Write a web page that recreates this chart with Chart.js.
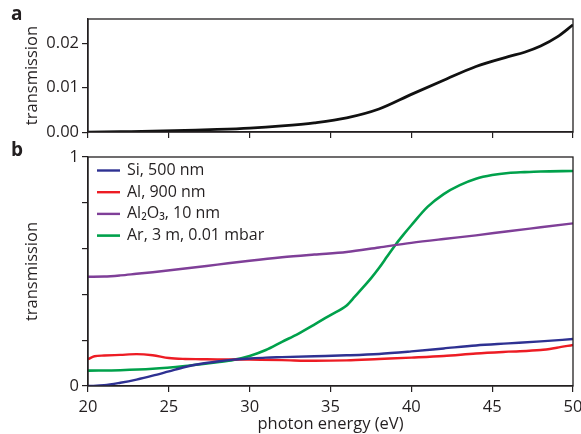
<!DOCTYPE html>
<html>
<head>
<meta charset="utf-8">
<script src="https://cdn.jsdelivr.net/npm/chart.js@4"></script>
<style>
  body { margin: 0; background: #fff; width: 581px; height: 434px; position: relative; overflow: hidden; font-family: 'Open Sans', sans-serif; }
  canvas { position: absolute; left: 0; }
  .tag { position: absolute; left: 11px; font-weight: bold; font-size: 19px; line-height: 19px; color: #231f20; z-index: 2; }
</style>
</head>
<body>
<div class="tag" style="top:4px">a</div>
<div class="tag" style="top:140px">b</div>
<canvas id="chartA" width="581" height="145" style="top:0"></canvas>
<canvas id="chartB" width="581" height="294" style="top:140px"></canvas>
<script>
// panel a: total transmission
var energyA = [20, 22, 24, 26, 28, 30, 32, 34, 36, 38, 40, 42, 44, 46, 47, 48, 49, 50];
var transA = [0, 0.0001, 0.0002, 0.0004, 0.0006, 0.0009, 0.0014, 0.0021, 0.0032, 0.0052, 0.0085, 0.0117, 0.0148, 0.0170, 0.0180, 0.0194, 0.0214, 0.0242];

// panel b: individual elements
var energySi = [20, 21, 22, 23, 24, 25, 26, 27, 28, 29, 30, 31, 32, 34, 36, 38, 40, 42, 44, 46, 48, 50];
var transSi = [0, 0.003, 0.014, 0.028, 0.045, 0.064, 0.083, 0.097, 0.107, 0.115, 0.120, 0.124, 0.126, 0.130, 0.134, 0.140, 0.151, 0.164, 0.177, 0.186, 0.195, 0.205];

var energyAl = [20, 20.4, 21, 22, 23, 24, 25, 26, 27, 28, 29, 30, 32, 34, 36, 38, 40, 42, 44, 46, 48, 49, 50];
var transAl = [0.117, 0.130, 0.133, 0.136, 0.139, 0.134, 0.122, 0.118, 0.117, 0.116, 0.116, 0.115, 0.113, 0.110, 0.112, 0.118, 0.124, 0.131, 0.142, 0.150, 0.157, 0.167, 0.179];

var energyAl2O3 = [20, 21, 22, 23, 24, 26, 28, 30, 32, 34, 36, 38, 40, 42, 44, 46, 48, 50];
var transAl2O3 = [0.477, 0.478, 0.483, 0.490, 0.497, 0.513, 0.530, 0.547, 0.562, 0.574, 0.585, 0.605, 0.625, 0.642, 0.658, 0.676, 0.693, 0.710];

var energyAr = [20, 22, 24, 26, 27, 28, 29, 30, 31, 32, 33, 34, 35, 36, 36.5, 37, 37.5, 38, 38.5, 39, 39.5, 40, 41, 42, 43, 44, 45, 46, 47, 48, 50];
var transAr = [0.067, 0.069, 0.075, 0.087, 0.095, 0.104, 0.114, 0.131, 0.157, 0.193, 0.228, 0.268, 0.310, 0.352, 0.390, 0.430, 0.470, 0.515, 0.565, 0.615, 0.660, 0.702, 0.782, 0.838, 0.877, 0.905, 0.921, 0.930, 0.934, 0.937, 0.939];

var seriesLabels = ['Si, 500 nm', 'Al, 900 nm', 'Al\u2082O\u2083, 10 nm', 'Ar, 3 m, 0.01 mbar'];
var xTitle = 'photon energy (eV)';
var yTitle = 'transmission';

var ink = '#231f20';
var fontFamily = "'Open Sans', sans-serif";
var axisFont = {family: fontFamily, size: 16.5};

function toXY(xs, ys) {
    return xs.map(function (x, i) { return {x: x, y: ys[i]}; });
}

function line(label, xs, ys, color, width) {
    return {
        label: label,
        data: toXY(xs, ys),
        borderColor: color,
        backgroundColor: color,
        borderWidth: width,
        pointRadius: 0,
        cubicInterpolationMode: 'monotone',
        fill: false
    };
}

// box round the plot area (top and right edges)
var frame = {
    id: 'frame',
    afterDraw: function (chart) {
        var a = chart.chartArea, ctx = chart.ctx;
        ctx.save();
        ctx.strokeStyle = ink;
        ctx.lineWidth = 1.3;
        ctx.strokeRect(a.left, a.top, a.right - a.left, a.bottom - a.top);
        ctx.restore();
    }
};

// legend in the top left corner of the plot
var cornerLegend = {
    id: 'cornerLegend',
    afterDraw: function (chart) {
        var a = chart.chartArea, ctx = chart.ctx;
        ctx.save();
        ctx.font = '16px ' + fontFamily;
        ctx.textBaseline = 'middle';
        chart.data.datasets.forEach(function (ds, i) {
            var y = a.top + 13.5 + i * 21.7;
            ctx.strokeStyle = ds.borderColor;
            ctx.lineWidth = ds.borderWidth;
            ctx.beginPath();
            ctx.moveTo(a.left + 9, y);
            ctx.lineTo(a.left + 32, y);
            ctx.stroke();
            ctx.fillStyle = ink;
            ctx.fillText(ds.label, a.left + 39, y);
        });
        ctx.restore();
    }
};

var tickGrid = {drawOnChartArea: false, tickLength: 6, color: ink, lineWidth: 1.2};

var chartA = new Chart(document.getElementById('chartA').getContext('2d'), {
    type: 'line',
    data: {datasets: [line('total', energyA, transA, '#111', 2.8)]},
    options: {
        responsive: false,
        animation: false,
        layout: {padding: {top: 19, right: 8, left: 0, bottom: 0}},
        plugins: {legend: {display: false}, tooltip: {enabled: false}},
        scales: {
            x: {
                type: 'linear', min: 20, max: 50,
                ticks: {display: false, stepSize: 5},
                grid: tickGrid,
                border: {color: ink, width: 1.3},
                afterFit: function (s) { s.height = 11; s.paddingLeft = 0; s.paddingRight = 0; }
            },
            y: {
                min: 0, max: 0.0255,
                ticks: {stepSize: 0.01, includeBounds: false, color: ink, padding: 3, font: axisFont,
                    callback: function (v) { return v.toFixed(2); }},
                grid: tickGrid,
                border: {color: ink, width: 1.3},
                title: {display: true, text: yTitle, color: ink, font: axisFont, padding: {top: 22, bottom: 0}},
                afterFit: function (s) { s.width = 88; }
            }
        }
    },
    plugins: [frame]
});

var chartB = new Chart(document.getElementById('chartB').getContext('2d'), {
    type: 'line',
    data: {
        datasets: [
            line(seriesLabels[0], energySi, transSi, '#2e3192', 2.4),
            line(seriesLabels[1], energyAl, transAl, '#ed1c24', 2.4),
            line(seriesLabels[2], energyAl2O3, transAl2O3, '#7f3f98', 2.4),
            line(seriesLabels[3], energyAr, transAr, '#00a14b', 2.6)
        ]
    },
    options: {
        responsive: false,
        animation: false,
        layout: {padding: {top: 17, right: 8, left: 0, bottom: 0}},
        plugins: {legend: {display: false}, tooltip: {enabled: false}},
        scales: {
            x: {
                type: 'linear', min: 20, max: 50,
                ticks: {stepSize: 5, color: ink, padding: 5, maxRotation: 0, font: axisFont},
                grid: tickGrid,
                border: {color: ink, width: 1.3},
                title: {display: true, text: xTitle, color: ink, font: axisFont, padding: {top: 0, bottom: 0}},
                afterFit: function (s) { s.height = 48; s.paddingLeft = 0; s.paddingRight = 0; }
            },
            y: {
                min: 0, max: 1,
                ticks: {stepSize: 0.2, color: ink, padding: 3, font: axisFont,
                    callback: function (v) {
                        if (Math.abs(v) < 1e-9) return '0';
                        if (Math.abs(v - 1) < 1e-9) return '1';
                        return '';
                    }},
                grid: tickGrid,
                border: {color: ink, width: 1.3},
                title: {display: true, text: yTitle, color: ink, font: axisFont, padding: {top: 22, bottom: 0}},
                afterFit: function (s) { s.width = 88; }
            }
        }
    },
    plugins: [frame, cornerLegend]
});
</script>
</body>
</html>
